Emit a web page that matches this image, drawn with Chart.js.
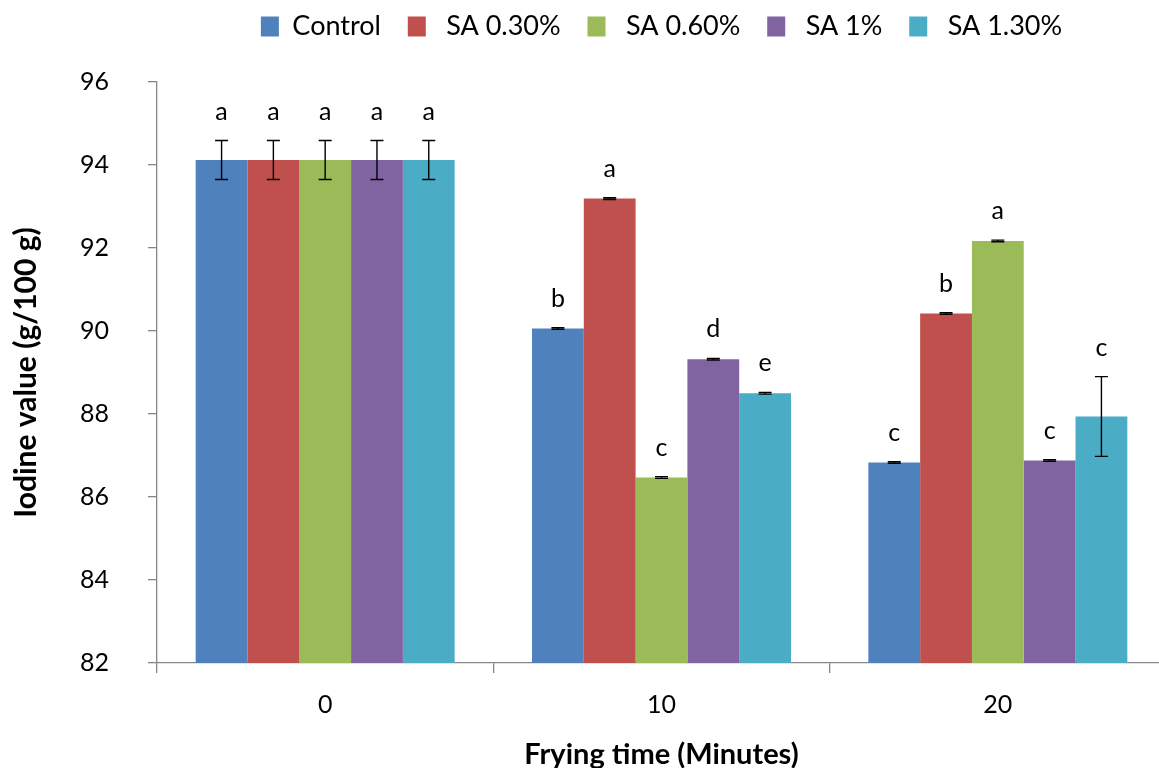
<!DOCTYPE html>
<html>
<head>
<meta charset="utf-8">
<script src="https://cdn.jsdelivr.net/npm/chart.js@4.4.1/dist/chart.umd.min.js"></script>
<style>
  html, body { margin: 0; padding: 0; overflow: hidden; background: #fff; }
  #wrap { position: relative; width: 1166px; height: 768px; }
</style>
</head>
<body>
<div id="wrap"><canvas id="c"></canvas></div>
<script>
const categories = ['0', '10', '20'];
const seriesNames = ['Control', 'SA 0.30%', 'SA 0.60%', 'SA 1%', 'SA 1.30%'];
const colors = ['#4F81BD', '#C0504D', '#9BBB59', '#8064A2', '#4BACC6'];

const control = [94.12, 90.06, 86.83];
const sa030 = [94.12, 93.19, 90.42];
const sa060 = [94.12, 86.47, 92.17];
const sa100 = [94.12, 89.32, 86.88];
const sa130 = [94.12, 88.50, 87.94];

const errControl = [0.47, 0.02, 0.02];
const errSa030 = [0.47, 0.02, 0.02];
const errSa060 = [0.47, 0.02, 0.02];
const errSa100 = [0.47, 0.02, 0.02];
const errSa130 = [0.47, 0.02, 0.96];

const letControl = ['a', 'b', 'c'];
const letSa030 = ['a', 'a', 'b'];
const letSa060 = ['a', 'c', 'a'];
const letSa100 = ['a', 'd', 'c'];
const letSa130 = ['a', 'e', 'c'];

const yTicks = [82, 84, 86, 88, 90, 92, 94, 96];

const values = [control, sa030, sa060, sa100, sa130];
const errors = [errControl, errSa030, errSa060, errSa100, errSa130];
const letters = [letControl, letSa030, letSa060, letSa100, letSa130];

const FONT = 'Lato, "Open Sans", "DejaVu Sans", sans-serif';
const AXIS = '#868686';

const errorBarPlugin = {
  id: 'errorBars',
  afterDatasetsDraw(chart) {
    const ctx = chart.ctx;
    const y = chart.scales.y;
    ctx.save();
    chart.data.datasets.forEach((ds, i) => {
      const meta = chart.getDatasetMeta(i);
      meta.data.forEach((bar, j) => {
        const v = values[i][j];
        const e = errors[i][j];
        const yTop = y.getPixelForValue(v + e);
        const yBot = y.getPixelForValue(v - e);
        const x = bar.x;
        ctx.strokeStyle = '#000';
        ctx.lineWidth = 1.4;
        ctx.beginPath();
        ctx.moveTo(x, yTop); ctx.lineTo(x, yBot);
        ctx.moveTo(x - 6.5, yTop); ctx.lineTo(x + 6.5, yTop);
        ctx.moveTo(x - 6.5, yBot); ctx.lineTo(x + 6.5, yBot);
        ctx.stroke();
        ctx.fillStyle = '#000';
        ctx.font = '25px ' + FONT;
        ctx.textAlign = 'center';
        ctx.textBaseline = 'alphabetic';
        ctx.fillText(letters[i][j], x, yTop - 21);
      });
    });
    ctx.restore();
  }
};

new Chart(document.getElementById('c'), {
  type: 'bar',
  data: {
    labels: categories,
    datasets: seriesNames.map((name, i) => ({
      label: name,
      data: values[i],
      backgroundColor: colors[i],
      borderWidth: 0,
      categoryPercentage: 0.77,
      barPercentage: 1.0
    }))
  },
  options: {
    responsive: true,
    maintainAspectRatio: false,
    animation: false,
    layout: { padding: { top: 0, left: 0, right: 0, bottom: 0 } },
    plugins: {
      tooltip: { enabled: false },
      title: { display: false },
      subtitle: {
        display: true,
        text: ' ',
        position: 'top',
        weight: 500,
        fullSize: false,
        font: { size: 10 },
        padding: { top: 10, bottom: 10 }
      },
      legend: {
        position: 'top',
        fullSize: false,
        labels: {
          color: '#000',
          font: { family: FONT, size: 27 },
          boxWidth: 18,
          boxHeight: 20,
          padding: 13,
          generateLabels(chart) {
            const base = Chart.defaults.plugins.legend.labels.generateLabels(chart);
            const n = base.length;
            return base.map((l, i) => Object.assign(l, {
              text: (i > 0 ? ' ' : '') + l.text + (i < n - 1 ? '  ' : ''),
              lineWidth: 0
            }));
          }
        }
      }
    },
    scales: {
      x: {
        grid: { display: true, drawOnChartArea: false, drawTicks: true, tickLength: 10, color: AXIS, lineWidth: 1.3, offset: true },
        border: { display: true, color: AXIS, width: 1.3 },
        ticks: { color: '#000', font: { family: FONT, size: 25 }, padding: 17 },
        title: { display: true, text: 'Frying time (Minutes)', color: '#000', font: { family: FONT, size: 29, weight: 'bold' }, padding: { top: 0, bottom: -4 } },
        afterFit(scale) { scale.height = 105; }
      },
      y: {
        min: 82, max: 96,
        afterBuildTicks(scale) { scale.ticks = yTicks.map(v => ({ value: v })); },
        grid: { display: true, drawOnChartArea: false, drawTicks: true, tickLength: 9, color: AXIS, lineWidth: 1.3 },
        border: { display: true, color: AXIS, width: 1.3 },
        ticks: { color: '#000', font: { family: FONT, size: 25 }, padding: 39 },
        title: { display: true, text: 'Iodine value (g/100 g)', color: '#000', font: { family: FONT, size: 30, weight: 'bold' }, padding: { top: 8, bottom: 0 } },
        afterFit(scale) { scale.width = 157; }
      }
    }
  },
  plugins: [errorBarPlugin]
});
</script>
</body>
</html>
